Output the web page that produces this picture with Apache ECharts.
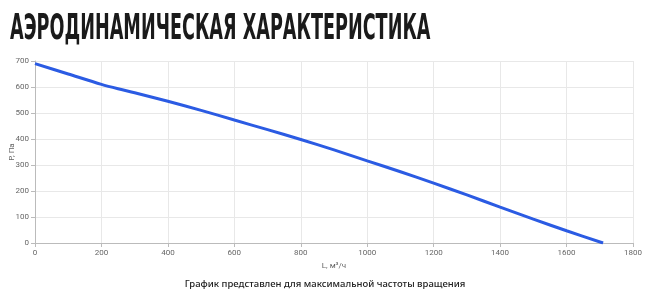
<!DOCTYPE html>
<html><head><meta charset="utf-8">
<script src="https://cdn.jsdelivr.net/npm/echarts@6/dist/echarts.min.js"></script>
<style>html,body{margin:0;padding:0;background:#fff}#c{width:650px;height:294px}</style>
</head><body><div id="c"></div>
<script>
const flow = [0, 100, 200, 250, 300, 400, 500, 600, 700, 800, 900, 1000, 1100, 1200, 1300, 1400, 1500, 1600, 1710];
const pressure = [690, 650, 610, 593, 578, 545, 510, 473, 436, 398, 358, 316, 274, 230, 185, 138, 92, 47, 0];
const titleText = 'АЭРОДИНАМИЧЕСКАЯ ХАРАКТЕРИСТИКА';
const noteText = 'График представлен для максимальной частоты вращения';
const xName = 'L, м³/ч';
const yName = 'Р, Па';

const chart = echarts.init(document.getElementById('c'), null, {renderer: 'canvas'});
chart.setOption({
  animation: false,
  backgroundColor: '#fff',
  grid: {left: 35, right: 17, top: 61, bottom: 51, containLabel: false, outerBoundsMode: 'none'},
  xAxis: {
    type: 'value', min: 0, max: 1800, interval: 200,
    name: xName, nameLocation: 'middle', nameGap: 19, nameMoveOverlap: false,
    nameTextStyle: {color: '#666', fontSize: 8, fontFamily: 'Roboto'},
    axisLine: {show: true, lineStyle: {color: '#bbb'}},
    axisTick: {show: true, length: 4, lineStyle: {color: '#bbb'}},
    axisLabel: {color: '#666', fontSize: 8, fontFamily: 'Roboto', margin: 6, formatter: v => String(v)},
    splitLine: {show: true, lineStyle: {color: '#e8e8e8'}}
  },
  yAxis: {
    type: 'value', min: 0, max: 700, interval: 100,
    name: yName, nameLocation: 'middle', nameGap: 23, nameRotate: 90, nameMoveOverlap: false,
    nameTextStyle: {color: '#666', fontSize: 8, fontFamily: 'Roboto', verticalAlign: 'middle'},
    axisLine: {show: true, lineStyle: {color: '#bbb'}},
    axisTick: {show: true, length: 4, lineStyle: {color: '#bbb'}},
    axisLabel: {color: '#666', fontSize: 8, fontFamily: 'Roboto', margin: 6, formatter: v => String(v)},
    splitLine: {show: true, lineStyle: {color: '#e8e8e8'}}
  },
  series: [{
    type: 'line', data: flow.map((x, i) => [x, pressure[i]]),
    smooth: 0.3, showSymbol: false,
    lineStyle: {color: '#2b5be3', width: 3}
  }],
  graphic: [
    {type: 'text', left: 10, top: 12, scaleX: 0.56,
     style: {text: titleText, font: 'bold 35px "Liberation Sans Narrow", "DejaVu Sans Condensed", sans-serif', fill: '#1a1a1a'}},
    {type: 'text', left: 'center', top: 279,
     style: {text: noteText, font: '500 9.5px "Noto Sans", sans-serif', fill: '#222'}}
  ]
});
</script></body></html>
